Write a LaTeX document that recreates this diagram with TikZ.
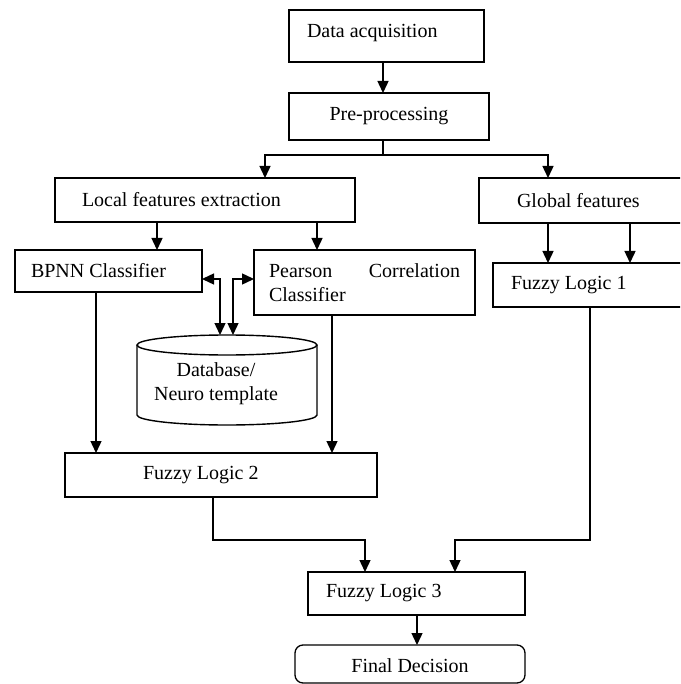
\documentclass[tikz,border=0pt]{standalone}
\usepackage{fontspec}
\setmainfont{Liberation Serif}
\usetikzlibrary{arrows.meta}
\begin{document}
\begin{tikzpicture}[x=1pt,y=-1pt,
  font=\fontsize{20}{24}\selectfont,
  box/.style={draw,line width=1.8pt,anchor=north west,inner ysep=0pt,outer sep=0pt,align=flush left},
  conn/.style={line width=1.4pt},
  arr/.style={conn,-{Triangle[length=12pt,width=11pt]}},
  darr/.style={conn,{Triangle[length=12pt,width=11pt]}-{Triangle[length=12pt,width=11pt]}}]
\useasboundingbox (0,0) rectangle (680,684);
\clip (0,0) rectangle (680,684);
% boxes
\node[box,minimum height=52pt,inner xsep=18pt,text width=159pt,text depth=11pt] (data) at (289,10) {Data acquisition};
\node[box,minimum height=47pt,inner xsep=0pt,text width=200pt,align=center] (pre) at (289,93) {Pre-processing};
\node[box,minimum height=44pt,inner xsep=27pt,text width=246pt] (local) at (55,178) {Local features extraction};
\node[box,minimum height=45pt,inner xsep=38pt,text width=145pt] (global) at (479,178) {Global features};
\node[box,minimum height=42pt,inner xsep=16pt,text width=155pt] (bpnn) at (15,250) {BPNN Classifier};
\node[box,minimum height=65pt,inner xsep=15pt,text width=191pt] (pearson) at (254,250) {Pearson\hfill Correlation\\Classifier};
\node[box,minimum height=44pt,inner xsep=18pt,text width=161pt] (fl1) at (493,263) {Fuzzy Logic 1};
\node[box,minimum height=44pt,inner xsep=78pt,text width=156pt] (fl2) at (65,453) {Fuzzy Logic 2};
\node[box,minimum height=43pt,inner xsep=18pt,text width=181pt] (fl3) at (308,572) {Fuzzy Logic 3};
\node[draw,line width=1.3pt,rounded corners=8pt,anchor=north west,minimum width=230pt,minimum height=38pt,inner sep=0pt,outer sep=0pt,text height=17pt] (final) at (295,645) {Final Decision};
% database cylinder
\coordinate (dbtop) at (227,335);
\draw[line width=1.4pt] (227,345) ellipse [x radius=90pt, y radius=10pt];
\draw[line width=1.4pt] (137,345) -- (137,415) arc[start angle=180,end angle=360,x radius=90pt,y radius=10pt] -- (317,345);
\node[align=center,inner sep=0pt] (db) at (216,384) {Database/\\Neuro template};
% connectors
\draw[arr] (data.south -| 383,0) -- (pre.north -| 383,0);
\draw[conn] (pre.south -| 383,0) -- (383,155);
\draw[arr] (383,155) -| (local.north -| 265,0);
\draw[arr] (383,155) -| (global.north -| 548,0);
\draw[arr] (local.south -| 157,0) -- (bpnn.north -| 157,0);
\draw[arr] (local.south -| 317,0) -- (pearson.north -| 317,0);
\draw[arr] (global.south -| 548,0) -- (fl1.north -| 548,0);
\draw[arr] (global.south -| 630,0) -- (fl1.north -| 630,0);
\draw[darr] (bpnn.east |- 0,279) -| (dbtop -| 220,0);
\draw[darr] (pearson.west |- 0,279) -| (dbtop -| 233,0);
\draw[arr] (bpnn.south -| 96,0) -- (fl2.north -| 96,0);
\draw[arr] (pearson.south -| 332,0) -- (fl2.north -| 332,0);
\draw[arr] (fl2.south -| 213,0) -- (213,540) -| (fl3.north -| 365,0);
\draw[arr] (fl1.south -| 590,0) -- (590,540) -| (fl3.north -| 455,0);
\draw[arr] (fl3.south -| 417,0) -- (final.north -| 417,0);
\end{tikzpicture}
\end{document}
